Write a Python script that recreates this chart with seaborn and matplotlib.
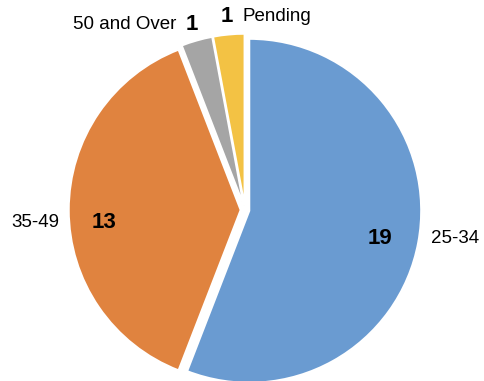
import matplotlib
matplotlib.use("Agg")
import matplotlib.pyplot as plt
import numpy as np
import seaborn as sns

sns.set_theme(style="white")
plt.rcParams["font.family"] = ["Liberation Sans", "DejaVu Sans"]

categories = ["25-34", "35-49", "50 and Over", "Pending"]
counts = [19, 13, 1, 1]
colors = ["#6A9BD1", "#E0833F", "#A5A5A5", "#F3C244"]

fig = plt.figure(figsize=(4.85, 3.81), dpi=100)
ax = fig.add_axes([0, 0, 1, 1])

wedges, _ = ax.pie(
    counts,
    colors=colors,
    startangle=90,
    counterclock=False,
    explode=[0.025] * len(counts),
    wedgeprops=dict(edgecolor="white", linewidth=1.5),
)

# label layout per slice: value radius, category radius, vertical nudges
layout = [
    dict(vr=0.80, cr=1.24, vdy=-0.02, cdy=0.06, mode="radial"),
    dict(vr=0.82, cr=1.22, vdy=-0.07, cdy=-0.07, mode="radial"),
    dict(vr=1.12, vdy=0.0, mode="left"),
    dict(vr=1.13, vdy=0.0, mode="right"),
]

for w, n, cat, lay in zip(wedges, counts, categories, layout):
    mid = np.deg2rad((w.theta1 + w.theta2) / 2)
    cx, cy = np.cos(mid), np.sin(mid)
    vx, vy = lay["vr"] * cx, lay["vr"] * cy + lay["vdy"]
    ax.text(vx, vy, str(n), ha="center", va="center",
            fontsize=16, fontweight="bold", color="black")
    if lay["mode"] == "radial":
        ax.text(lay["cr"] * cx, lay["cr"] * cy + lay["cdy"], cat,
                ha="center", va="center", fontsize=13.5, color="black")
    elif lay["mode"] == "left":
        ax.text(vx - 0.09, vy, cat, ha="right", va="center",
                fontsize=13.5, color="black")
    else:
        ax.text(vx + 0.09, vy, cat, ha="left", va="center",
                fontsize=13.5, color="black")

r_px = 172.0
cx_px, cy_px = 245.0, 210.0
ax.set_xlim(-cx_px / r_px, (485 - cx_px) / r_px)
ax.set_ylim(-(381 - cy_px) / r_px, cy_px / r_px)
ax.set_aspect("equal")
ax.axis("off")

fig.savefig("out.png", dpi=100, facecolor="white")
